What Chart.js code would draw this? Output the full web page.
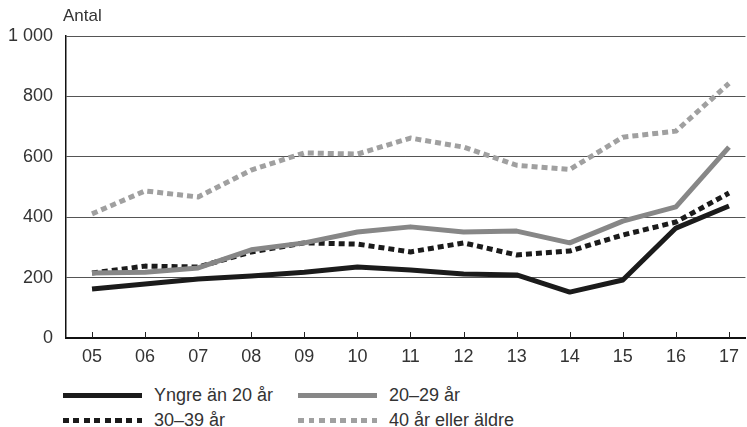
<!DOCTYPE html>
<html>
<head>
<meta charset="utf-8">
<script src="https://cdn.jsdelivr.net/npm/chart.js@4/dist/chart.umd.min.js"></script>
<style>
    html, body { margin: 0; padding: 0; background: #fff; }
    body { width: 747px; height: 427px; overflow: hidden; position: relative;
        font-family: "Liberation Sans", Arial, sans-serif; color: #333; }
    #wrap { position: absolute; left: 0; top: 0; width: 747px; height: 372px; }
    #unit { position: absolute; left: 63px; top: 6px; font-size: 17px; line-height: 20px; }
    .leg { position: absolute; font-size: 18px; line-height: 20px; }
    .leg .s { position: absolute; left: 0; top: 8px; width: 79px; height: 5px; }
    .leg .t { position: absolute; left: 91px; top: 0; white-space: nowrap; }
</style>
</head>
<body>
<div id="wrap"><canvas id="chart"></canvas></div>
<div id="unit">Antal</div>
<div id="legend"></div>
<script>
let years = ["05", "06", "07", "08", "09", "10", "11", "12", "13", "14", "15", "16", "17"];
let under20 = [162, 179, 195, 205, 218, 235, 225, 212, 209, 152, 192, 364, 437];
let age20_29 = [215, 218, 232, 292, 315, 351, 368, 351, 354, 315, 387, 434, 632];
let age30_39 = [215, 238, 235, 285, 315, 311, 285, 315, 275, 288, 341, 384, 480];
let age40plus = [411, 487, 467, 556, 613, 609, 662, 632, 572, 558, 665, 685, 843];
let yTicks = [0, 200, 400, 600, 800, 1000];

let series = [
    {label: "Yngre än 20 år", data: under20, color: "#1b1b1b", dash: []},
    {label: "20–29 år", data: age20_29, color: "#878787", dash: []},
    {label: "30–39 år", data: age30_39, color: "#1b1b1b", dash: [6, 4]},
    {label: "40 år eller äldre", data: age40plus, color: "#a0a0a0", dash: [6, 4]}
];

let datasets = [];
for (let i = 0; i < series.length; i++) {
    datasets.push({
        label: series[i].label,
        data: series[i].data.map((v, j) => ({x: j, y: v})),
        borderColor: series[i].color,
        borderWidth: 5,
        borderDash: series[i].dash,
        borderCapStyle: "butt",
        borderJoinStyle: "round",
        pointRadius: 0,
        tension: 0
    });
}

// small tick marks standing up from the x axis
let innerTicks = {
    id: "innerTicks",
    afterDatasetsDraw(chart) {
        let ctx = chart.ctx;
        let x = chart.scales.x;
        let bottom = chart.chartArea.bottom;
        ctx.save();
        ctx.strokeStyle = "#222";
        ctx.lineWidth = 1;
        for (let i = 0; i < years.length; i++) {
            let px = Math.round(x.getPixelForValue(i)) + 0.5;
            ctx.beginPath();
            ctx.moveTo(px, bottom);
            ctx.lineTo(px, bottom - 6);
            ctx.stroke();
        }
        ctx.restore();
    }
};

let tickFont = {family: "Liberation Sans", size: 18};

new Chart(document.getElementById("chart").getContext("2d"), {
    type: "line",
    data: {datasets: datasets},
    options: {
        responsive: true,
        maintainAspectRatio: false,
        animation: false,
        layout: {padding: {top: 36, right: 0, left: 0, bottom: 0}},
        plugins: {
            legend: {display: false},
            tooltip: {enabled: false}
        },
        scales: {
            x: {
                type: "linear",
                min: -0.49,
                max: 12.31,
                afterBuildTicks: axis => { axis.ticks = years.map((l, i) => ({value: i})); },
                afterFit: axis => { axis.height = 34; },
                grid: {display: false, drawTicks: false},
                border: {display: true, color: "#111", width: 2},
                ticks: {
                    padding: 8,
                    autoSkip: false,
                    maxRotation: 0,
                    color: "#333",
                    font: tickFont,
                    callback: v => years[v]
                }
            },
            y: {
                min: 0,
                max: 1000,
                afterBuildTicks: axis => { axis.ticks = yTicks.map(v => ({value: v})); },
                afterFit: axis => { axis.width = 66; },
                grid: {color: "#555", lineWidth: 1, drawTicks: false},
                border: {display: true, color: "#111", width: 1.5},
                ticks: {
                    padding: 13,
                    color: "#333",
                    font: tickFont,
                    callback: v => v >= 1000 ? String(v).replace(/(\d)(?=(\d{3})+$)/g, "$1 ") : v
                }
            }
        }
    },
    plugins: [innerTicks]
});

// legend in two columns below the chart
let legendPos = [[63, 385], [298, 385], [63, 410], [298, 410]];
let legendBox = document.getElementById("legend");
for (let i = 0; i < series.length; i++) {
    let s = series[i];
    let bg = s.dash.length
        ? "repeating-linear-gradient(90deg, " + s.color + " 0 6px, transparent 6px 10.5px)"
        : s.color;
    let item = document.createElement("div");
    item.className = "leg";
    item.style.left = legendPos[i][0] + "px";
    item.style.top = legendPos[i][1] + "px";
    item.innerHTML = '<div class="s" style="background:' + bg + '"></div><div class="t">' + s.label + '</div>';
    legendBox.appendChild(item);
}
</script>
</body>
</html>
